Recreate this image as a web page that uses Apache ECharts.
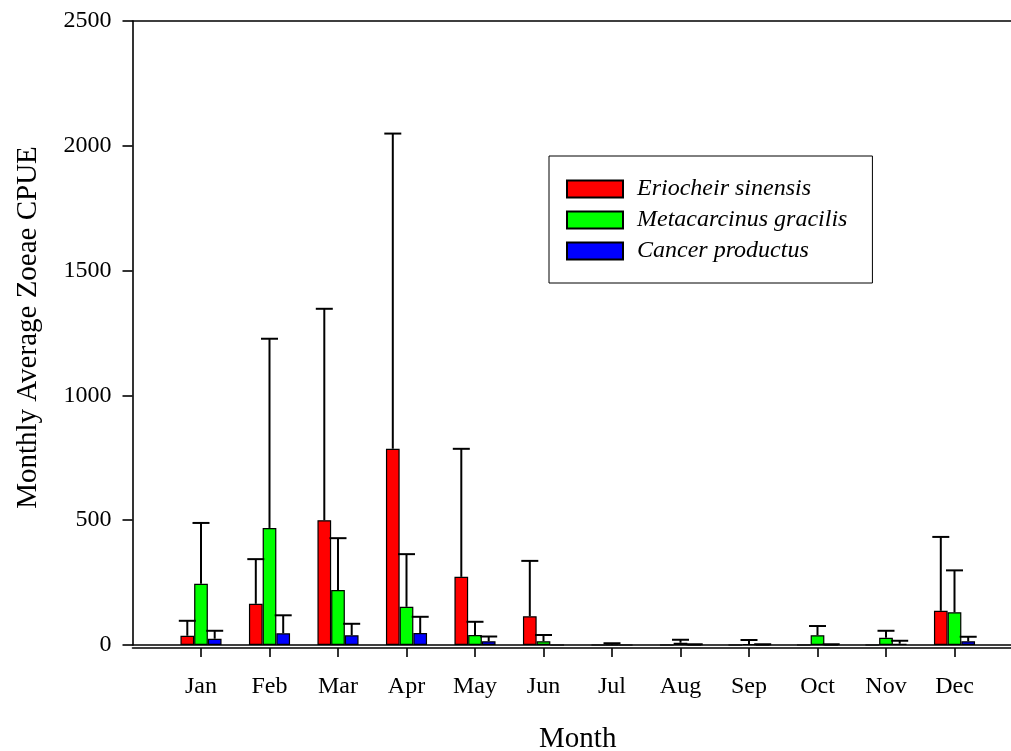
<!DOCTYPE html>
<html><head><meta charset="utf-8">
<script src="https://cdn.jsdelivr.net/npm/echarts@6/dist/echarts.min.js"></script>
<style>html,body{margin:0;padding:0;background:#fff}#c{width:1011px;height:751px}</style>
</head><body><div id="c"></div>
<script>
const months = ['Jan','Feb','Mar','Apr','May','Jun','Jul','Aug','Sep','Oct','Nov','Dec'];
const seriesNames = ['Eriocheir sinensis','Metacarcinus gracilis','Cancer productus'];
const eriocheirMean = [37, 165, 500, 786, 273, 115, 0, 0, 0, 0, 0, 137];
const eriocheirErr  = [60, 179, 847, 1263, 513, 222, 0, 0, 0, 0, 0, 296];
const metacarcinusMean = [245, 469, 220, 153, 40, 15, 1, 9, 4, 39, 29, 131];
const metacarcinusErr  = [244, 758, 208, 211, 53, 25, 6, 12, 16, 37, 28, 168];
const cancerMean = [25, 47, 39, 48, 15, 0, 0, 1, 1, 1, 5, 15];
const cancerErr  = [32, 72, 46, 65, 19, 0, 0, 2, 2, 2, 12, 18];
const yTicks = [0, 500, 1000, 1500, 2000, 2500];
const colors = ['#ff0000', '#00ff00', '#0000ff'];

const BAR_W = 13.7;
const CAP = 17;
const FONT = '"Liberation Serif", "DejaVu Serif", serif';
const monthPos = months.map((m, i) => i + 1);

function barSeries(idx, means) {
  return {
    name: seriesNames[idx], type: 'bar', xAxisIndex: 1,
    barWidth: BAR_W, barGap: '0%',
    data: means.map((v, i) => [i + 1, v]),
    itemStyle: { color: colors[idx], borderColor: '#000', borderWidth: 1.2 },
    z: 2
  };
}
function errorSeries(idx, means, errs) {
  const data = [];
  means.forEach((m, i) => { if (errs[i] > 0) data.push([i + 1, m, m + errs[i]]); });
  return {
    type: 'custom', xAxisIndex: 1, data, z: 5, silent: true,
    encode: { x: 0, y: [1, 2] },
    renderItem(params, api) {
      const off = (idx - 1) * BAR_W;
      const p0 = api.coord([api.value(0), api.value(1)]);
      const p1 = api.coord([api.value(0), api.value(2)]);
      const x = p0[0] + off;
      const st = { stroke: '#000', lineWidth: 2 };
      return { type: 'group', children: [
        { type: 'line', shape: { x1: x, y1: p0[1], x2: x, y2: p1[1] }, style: st },
        { type: 'line', shape: { x1: x - CAP / 2, y1: p1[1], x2: x + CAP / 2, y2: p1[1] }, style: st }
      ]};
    }
  };
}

const lineOnlyAxis = (pos, offset) => ({
  type: 'value', min: 0, max: 13, position: pos, offset,
  axisLine: { show: true, onZero: false, lineStyle: { color: '#000', width: 1.6 } },
  axisTick: { show: false }, axisLabel: { show: false }, splitLine: { show: false }
});

const chart = echarts.init(document.getElementById('c'), null, { renderer: 'canvas' });
chart.setOption({
  animation: false,
  backgroundColor: '#fff',
  textStyle: { fontFamily: FONT, color: '#000' },
  grid: { left: 132.5, top: 21, width: 890.5, height: 624, containLabel: false, outerBoundsMode: 'none' },
  legend: {
    data: seriesNames, orient: 'vertical', left: 549, top: 156,
    padding: [21, 25, 20, 17], itemGap: 7, itemWidth: 56, itemHeight: 17,
    borderColor: '#000', borderWidth: 1, backgroundColor: '#fff',
    icon: 'rect',
    textStyle: { fontFamily: FONT, fontSize: 24, fontStyle: 'italic', color: '#000', padding: [0, 0, 0, 9] }
  },
  xAxis: [
    lineOnlyAxis('bottom', 0),
    {
      type: 'value', min: 0, max: 13, position: 'bottom', offset: 3,
      axisLine: { show: true, onZero: false, lineStyle: { color: '#000', width: 1.6 } },
      axisTick: { show: true, customValues: monthPos, length: 9, lineStyle: { color: '#000', width: 1.6 } },
      axisLabel: { customValues: monthPos, formatter: v => months[Math.round(v) - 1] || '',
        margin: 27, fontSize: 24, fontFamily: FONT, color: '#000' },
      splitLine: { show: false },
      name: 'Month', nameLocation: 'middle', nameGap: 77,
      nameTextStyle: { fontSize: 29, fontFamily: FONT, color: '#000' }
    },
    lineOnlyAxis('top', 0)
  ],
  yAxis: {
    type: 'value', min: 0, max: 2500, interval: 500,
    axisLine: { show: true, lineStyle: { color: '#000', width: 1.6 } },
    axisTick: { show: true, length: 10, lineStyle: { color: '#000', width: 1.6 } },
    axisLabel: { margin: 21, fontSize: 24, fontFamily: FONT, color: '#000',
      formatter: v => yTicks.includes(v) ? String(v) : '' },
    splitLine: { show: false },
    name: 'Monthly Average Zoeae CPUE', nameLocation: 'middle', nameGap: 90,
    nameTextStyle: { fontSize: 29, fontFamily: FONT, color: '#000', padding: [0, 0, 0, 11] }
  },
  series: [
    barSeries(0, eriocheirMean),
    barSeries(1, metacarcinusMean),
    barSeries(2, cancerMean),
    errorSeries(0, eriocheirMean, eriocheirErr),
    errorSeries(1, metacarcinusMean, metacarcinusErr),
    errorSeries(2, cancerMean, cancerErr)
  ]
});
</script></body></html>
